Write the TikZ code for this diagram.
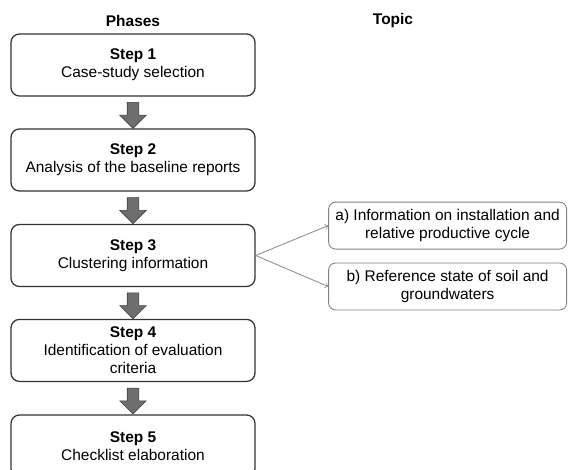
\documentclass[tikz,border=0pt]{standalone}
\usepackage{fontspec}
\setmainfont{Liberation Sans}
\usetikzlibrary{shapes.arrows}

\begin{document}
\begin{tikzpicture}[
    phase/.style={draw=black!80, line width=0.9pt, rounded corners=6pt, minimum width=6.1cm, minimum height=1.55cm, align=center, font=\fontsize{11}{12.8}\selectfont},
    topic/.style={draw=black!50, line width=0.6pt, rounded corners=5pt, minimum width=5.95cm, minimum height=1.175cm, align=center, font=\fontsize{11}{12.8}\selectfont},
    down/.style={single arrow, shape border rotate=270, draw=black!75, fill=black!57, inner sep=0.1375cm, minimum height=0.65cm, single arrow head extend=0.1875cm},
    heading/.style={font=\fontsize{11}{12.8}\selectfont\bfseries},
    link/.style={draw=black!45, line width=0.6pt}
]
\useasboundingbox (0,0) rectangle (14.2,11.75);

\node[heading] (phases) at (3.325, 11.225) {Phases};
\node[heading] (topic) at (9.825, 11.225) {Topic};

\node[phase] (s1) at (3.325, 10.125) {\textbf{Step 1}\\Case-study selection};
\node[phase] (s2) at (3.325, 7.75) {\textbf{Step 2}\\Analysis of the baseline reports};
\node[phase] (s3) at (3.325, 5.3625) {\textbf{Step 3}\\Clustering information};
\node[phase] (s4) at (3.325, 2.99) {\textbf{Step 4}\\Identification of evaluation\\criteria};
\node[phase] (s5) at (3.325, 0.6) {\textbf{Step 5}\\Checklist elaboration};

\node[down] (d12) at (3.325, 8.9375) {};
\node[down] (d23) at (3.325, 6.556) {};
\node[down] (d34) at (3.325, 4.176) {};
\node[down] (d45) at (3.325, 1.795) {};

\node[topic] (ta) at (11.19, 6.11) {a) Information on installation and\\relative productive cycle};
\node[topic] (tb) at (11.19, 4.5875) {b) Reference state of soil and\\groundwaters};

\draw (s3.east) edge[link, ->] (ta.west);
\draw (s3.east) edge[link, ->] (tb.west);

\end{tikzpicture}
\end{document}
